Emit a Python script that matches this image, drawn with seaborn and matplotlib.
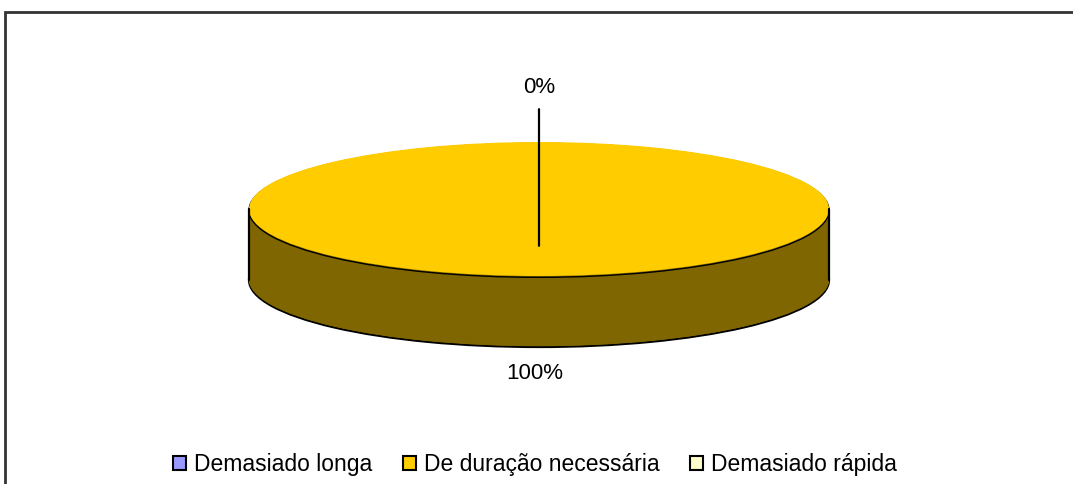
import matplotlib
matplotlib.use("Agg")
import matplotlib.pyplot as plt
import seaborn as sns
import numpy as np
from matplotlib.patches import Patch, Rectangle

# data
categories = ["Demasiado longa", "De duração necessária", "Demasiado rápida"]
values = [0, 100, 0]
colors = ["#9999FF", "#FFCC00", "#FFFFCC"]
side_colors = ["#4D4D80", "#806600", "#808066"]

sns.set_style("white")
plt.rcParams["font.family"] = ["Liberation Sans", "DejaVu Sans"]
plt.rcParams["text.color"] = "black"

W, H = 1073, 484
fig = plt.figure(figsize=(W / 100, H / 100), dpi=100)
ax = fig.add_axes([0, 0, 1, 1])

# pixel geometry of the tilted pie
cx, cy = 539, 209      # centre of top ellipse (px)
rx, ry = 290, 67       # half axes (px)
depth = 71 / ry        # thickness in data units (y)

# stack of darker layers for the side wall
n_layers = 60
for i, d in enumerate(np.linspace(depth, 0.02, n_layers)):
    wp = dict(linewidth=1.6, edgecolor="black") if i == 0 else dict(linewidth=0.6)
    w, _ = ax.pie(values, colors=side_colors, startangle=90, counterclock=True,
                  center=(0, -d), radius=1, wedgeprops=wp, frame=True)
    if i > 0:
        for wedge, c in zip(w, side_colors):
            wedge.set_edgecolor(c)

# thin dark rim where the top meets the side
ax.pie(values, colors=side_colors, startangle=90, center=(0, -0.02), radius=1,
       wedgeprops=dict(linewidth=1.0, edgecolor="black"), frame=True)
# top face
wedges, _ = ax.pie(values, colors=colors, startangle=90, center=(0, 0), radius=1,
                   wedgeprops=dict(linewidth=0), frame=True)

# side edges
ax.plot([-1, -1], [0, -depth], color="black", lw=1.6)
ax.plot([1, 1], [0, -depth], color="black", lw=1.6)

# percentage labels
total = sum(values)
pcts = [v / total * 100 for v in values]
ang0 = np.deg2rad(wedges[0].theta1)
ax.annotate(f"{pcts[0]:.0f}%", xy=(np.cos(ang0) * 0, -0.55),
            xytext=(np.cos(ang0) * 0, 1.82), ha="center", va="center", fontsize=16,
            arrowprops=dict(arrowstyle="-", color="black", lw=1.6,
                            shrinkA=6, shrinkB=0))
ang1 = np.deg2rad((wedges[1].theta1 + wedges[1].theta2) / 2)
ax.text(np.cos(ang1) * 0.015 - 0.014, np.sin(ang1) * 2.45, f"{pcts[1]:.0f}%",
        ha="center", va="center", fontsize=16)

ax.set_aspect("auto")
ax.set_xlim(-cx / rx, (W - cx) / rx)
ax.set_ylim(-(H - cy) / ry, cy / ry)
ax.axis("off")

# chart frame (cropped at right and bottom)
fig.add_artist(Rectangle((5 / W, -0.1), 1.2, (H - 12) / H + 0.1,
                         transform=fig.transFigure, fill=False,
                         edgecolor="#333333", lw=2))

handles = [Patch(facecolor=c, edgecolor="black", linewidth=1.5) for c in colors]
fig.legend(handles, categories, loc="center", bbox_to_anchor=(535 / W, 19 / H),
           ncol=3, frameon=False, fontsize=16.5, handlelength=0.55,
           handleheight=0.55, handletextpad=0.35, columnspacing=1.35)

fig.savefig("out.png", dpi=100)
